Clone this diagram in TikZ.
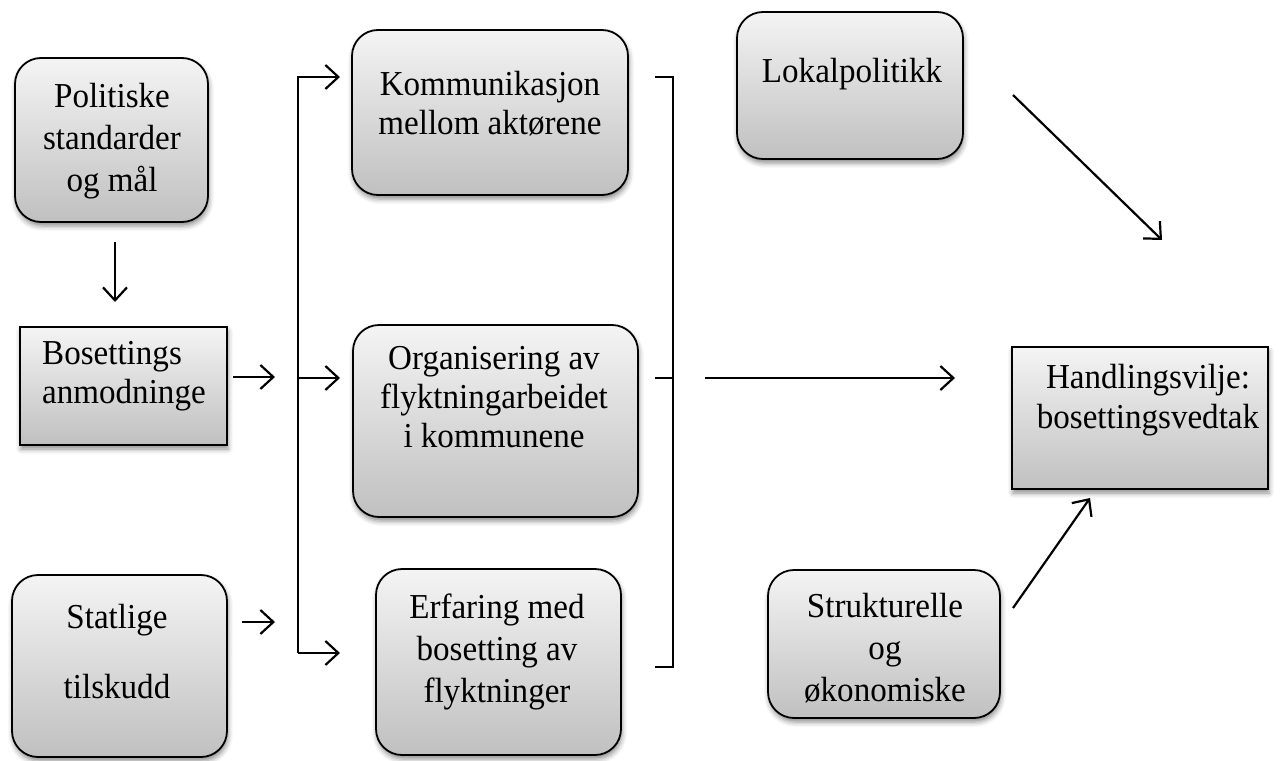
\documentclass[tikz,border=0pt]{standalone}
\usepackage{fontspec}
\setmainfont{Liberation Serif}[FakeStretch=0.945]
\usetikzlibrary{arrows.meta,shadows.blur}
\definecolor{gtop}{RGB}{244,244,244}
\definecolor{gbot}{RGB}{192,192,192}
\tikzset{
  boxbase/.style={draw=black, line width=1.8pt, top color=gtop, bottom color=gbot, inner sep=0pt,
    blur shadow={shadow xshift=1pt, shadow yshift=-4pt, shadow opacity=45, shadow blur radius=5pt}},
  rbox/.style={boxbase, rounded corners=26pt},
  sbox/.style={boxbase},
  lbl/.style={font=\fontsize{35}{#1}\selectfont, align=center, inner sep=0pt},
  lbl/.default=42,
  arr/.style={line width=2.2pt, -{Straight Barb[length=13pt,width=24pt,line width=2.2pt]}},
  ln/.style={line width=2.2pt}
}
\begin{document}
\begin{tikzpicture}[x=1pt,y=1pt]
\useasboundingbox (0,0) rectangle (1281,-760);
% boxes
\node[rbox, minimum width=193pt, minimum height=164pt] (pol) at (111.5,-140) {};
\node[sbox, minimum width=207pt, minimum height=118pt] (bos) at (123.5,-386) {};
\node[rbox, minimum width=215pt, minimum height=182pt] (sta) at (119.5,-666) {};
\node[rbox, minimum width=276pt, minimum height=165pt] (kom) at (490,-112.5) {};
\node[rbox, minimum width=285pt, minimum height=192pt] (org) at (495.5,-421) {};
\node[rbox, minimum width=245pt, minimum height=186pt] (erf) at (498.5,-662) {};
\node[rbox, minimum width=226pt, minimum height=147pt] (lok) at (850,-85.5) {};
\node[rbox, minimum width=232pt, minimum height=148pt] (str) at (884,-644) {};
\node[sbox, minimum width=256pt, minimum height=142pt] (han) at (1140,-418) {};
% texts
\node[lbl] (tpol) at (112,-141) {Politiske\\standarder\\og mål};
\node[lbl=39, anchor=west, align=left] (tbos) at (42,-376) {Bosettings\\anmodninge};
\node[lbl=70] (tsta) at (117,-652) {Statlige\\tilskudd};
\node[lbl=39] (tkom) at (490,-104) {Kommunikasjon\\mellom aktørene};
\node[lbl=39] (torg) at (494,-397) {Organisering av\\flyktningarbeidet\\i kommunene};
\node[lbl] (terf) at (497,-652) {Erfaring med\\bosetting av\\flyktninger};
\node[lbl] (tlok) at (852,-74) {Lokalpolitikk};
\node[lbl] (tstr) at (885,-648.5) {Strukturelle\\og\\økonomiske};
\node[lbl=40] (than) at (1148,-400) {Handlingsvilje:\\bosettingsvedtak};
% connector coordinates
\coordinate (p1) at (115,-242); \coordinate (p2) at (115,-302);
\coordinate (b1) at (233,-377); \coordinate (b2) at (275,-377);
\coordinate (s1) at (242,-622); \coordinate (s2) at (275,-622);
\coordinate (lt) at (298,-77); \coordinate (lm) at (298,-378); \coordinate (lb) at (298,-653);
\coordinate (kin) at (340,-77); \coordinate (oin) at (340,-378); \coordinate (ein) at (340,-653);
\coordinate (r1) at (655,-77); \coordinate (r2) at (673,-77);
\coordinate (r3) at (673,-667); \coordinate (r4) at (655,-667);
\coordinate (rm1) at (655,-378); \coordinate (rm2) at (673,-378);
\coordinate (h1) at (705,-378); \coordinate (h2) at (955,-378);
\coordinate (l1) at (1013,-95); \coordinate (l2) at (1162,-240);
\coordinate (k1) at (1013,-608); \coordinate (k2) at (1090,-498);
% connectors
\draw[arr] (p1) -- (p2);
\draw[arr] (b1) -- (b2);
\draw[arr] (s1) -- (s2);
\draw[arr] (lb) -- (lt) -- (kin);
\draw[arr] (lm) -- (oin);
\draw[arr] (lb) -- (ein);
\draw[ln] (r1) -- (r2) -- (r3) -- (r4);
\draw[ln] (rm1) -- (rm2);
\draw[arr] (h1) -- (h2);
\draw[arr] (l1) -- (l2);
\draw[arr] (k1) -- (k2);
\end{tikzpicture}
\end{document}
